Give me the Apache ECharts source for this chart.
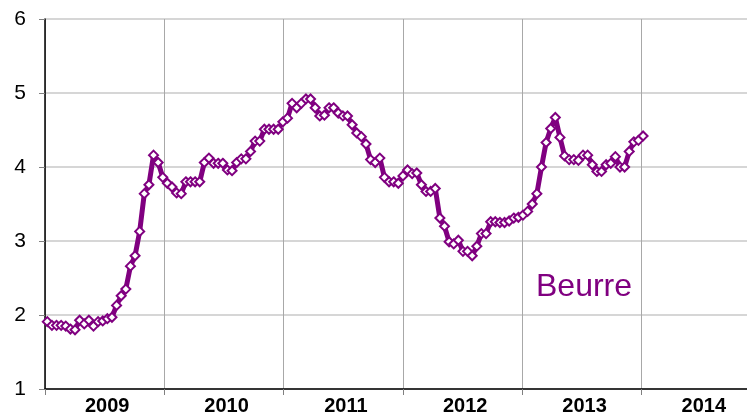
<!DOCTYPE html>
<html>
<head>
<meta charset="utf-8">
<script src="https://cdn.jsdelivr.net/npm/echarts@6/dist/echarts.min.js"></script>
<style>
html, body { margin: 0; padding: 0; background: #fff; }
#main { width: 747px; height: 418px; }
</style>
</head>
<body>
<div id="main"></div>
<script>
// biweekly butter values, Jan 2009 -> Dec 2013
var butter = [
	1.91, 1.86, 1.86, 1.86, 1.85, 1.81, 1.80, 1.93, 1.88, 1.93, 1.85, 1.91, 1.92,
	1.95, 1.97, 2.13, 2.26, 2.35, 2.66, 2.80, 3.13, 3.64, 3.76, 4.16, 4.06, 3.86,
	3.78, 3.73, 3.65, 3.64, 3.80, 3.80, 3.80, 3.80, 4.06, 4.12, 4.05, 4.05, 4.05,
	3.96, 3.95, 4.06, 4.11, 4.11, 4.21, 4.35, 4.35, 4.51, 4.51, 4.51, 4.51, 4.61,
	4.66, 4.86, 4.80, 4.86, 4.92, 4.92, 4.80, 4.69, 4.70, 4.80, 4.80, 4.73, 4.69,
	4.69, 4.57, 4.46, 4.41, 4.31, 4.10, 4.06, 4.12, 3.86, 3.80, 3.80, 3.78, 3.88,
	3.96, 3.91, 3.92, 3.76, 3.67, 3.67, 3.71, 3.31, 3.20, 2.99, 2.96, 3.01, 2.86,
	2.86, 2.80, 2.93, 3.10, 3.10, 3.26, 3.26, 3.25, 3.25, 3.27, 3.31, 3.32, 3.35,
	3.40, 3.50, 3.64, 4.00, 4.33, 4.52, 4.67, 4.40, 4.15, 4.10, 4.10, 4.09, 4.16,
	4.16, 4.03, 3.94, 3.94, 4.03, 4.05, 4.14, 4.00, 4.00, 4.21, 4.34, 4.36, 4.42
];
var years = ['2009', '2010', '2011', '2012', '2013', '2014'];
var seriesName = 'Beurre';

// the axis runs on past the last point, into 2014
var slots = [];
for (var i = 0; i < 152; i++) {
	slots.push(String(i));
}

var font = 'Liberation Sans, Arial, sans-serif';
var purple = '#800080';

var myChart = echarts.init(document.getElementById('main'));

var option = {
	backgroundColor: '#fff',
	animation: false,
	grid: {
		left: 45,
		right: 0,
		top: 19,
		bottom: 29,
		outerBoundsMode: 'none'
	},
	xAxis: [
		{
			type: 'category',
			position: 'bottom',
			data: slots,
			boundaryGap: true,
			show: false
		},
		{
			// year boundaries
			type: 'value',
			position: 'bottom',
			min: 2009,
			max: 2014.8825,
			interval: 1,
			axisLine: { show: true, lineStyle: { color: '#000', width: 1.5 } },
			axisTick: { show: true, length: 6, lineStyle: { color: '#808080' } },
			axisLabel: { show: false },
			splitLine: { show: true, lineStyle: { color: '#a8a8a8', width: 1 } }
		},
		{
			// year names, centred in each year
			type: 'value',
			position: 'bottom',
			offset: 0,
			min: 2008.5,
			max: 2014.3825,
			interval: 0.5,
			axisLine: { show: false },
			axisTick: { show: false },
			splitLine: { show: false },
			axisLabel: {
				fontFamily: font,
				fontSize: 20,
				fontWeight: 'bold',
				color: '#000',
				margin: 7,
				padding: [0, 0, 0, 5],
				showMinLabel: false,
				showMaxLabel: false,
				formatter: function (v) {
					var k = years.indexOf(String(v));
					return k < 0 ? '' : years[k];
				}
			}
		}
	],
	yAxis: {
		type: 'value',
		min: 1,
		max: 6,
		interval: 1,
		axisLine: { show: true, lineStyle: { color: '#000', width: 1.5 } },
		axisTick: { show: true, length: 6, lineStyle: { color: '#808080' } },
		axisLabel: {
			fontFamily: font,
			fontSize: 21,
			color: '#000',
			margin: 19
		},
		splitLine: { lineStyle: { color: '#c8c8c8', width: 1.5 } }
	},
	graphic: [
		{
			type: 'text',
			left: 536,
			top: 271,
			style: {
				text: seriesName,
				fontFamily: font,
				fontSize: 32,
				fill: purple
			}
		}
	],
	series: [
		{
			name: seriesName,
			type: 'line',
			xAxisIndex: 0,
			data: butter,
			symbol: 'diamond',
			symbolSize: 9,
			showAllSymbol: true,
			lineStyle: { color: purple, width: 5 },
			itemStyle: { color: '#fff', borderColor: purple, borderWidth: 2 }
		}
	]
};

myChart.setOption(option);
</script>
</body>
</html>
